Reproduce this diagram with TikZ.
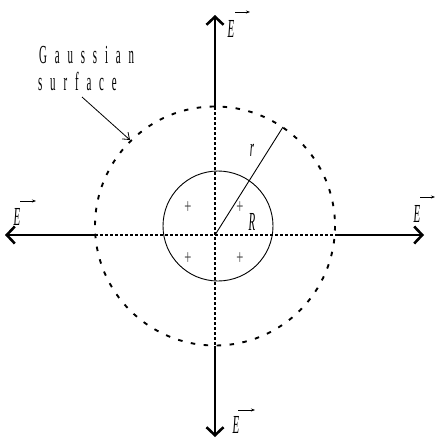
\documentclass[tikz,border=0pt]{standalone}
\usepackage{fontspec}
\setmainfont{Liberation Serif}
\usetikzlibrary{arrows.meta}
\begin{document}
\begin{tikzpicture}[x=1pt,y=-1pt,
  fieldarrow/.style={line width=2.8pt,-{Straight Barb[length=8pt,width=17pt,line width=2.6pt]}},
  crossline/.style={line width=1.7pt,dash pattern=on 3pt off 2pt},
  gauss/.style={line width=1.9pt,dash pattern=on 4.5pt off 8.5pt},
  lbl/.style={font=\itshape\fontsize{26pt}{26pt}\selectfont,inner sep=0pt,xscale=0.42},
  vecmark/.style={line width=0.7pt,-{Stealth[length=4pt,width=3pt]}},
  txt/.style={font=\fontsize{26pt}{26pt}\selectfont\addfontfeature{LetterSpace=72},inner sep=0pt,anchor=base west,xscale=0.42},
  plus/.style={font=\fontsize{21pt}{21pt}\selectfont,inner sep=0pt,text=black!75,xscale=0.6}]
\useasboundingbox (0,0) rectangle (435,439);
\coordinate (c) at (215,226);
\coordinate (o) at (215,235);
% circles
\draw[line width=0.9pt] (218,226) circle (55);
\draw[gauss] (c) ellipse (120 and 119.5);
% cross
\coordinate (top) at (215,107);
\coordinate (bot) at (215,346);
\coordinate (lft) at (95,235);
\coordinate (rgt) at (335,235);
\draw[crossline] (top) -- (bot);
\draw[crossline] (lft) -- (rgt);
% radius
\coordinate (rend) at (283,127);
\draw[line width=0.9pt] (o) -- (rend);
\node[lbl] (r) at (252,150) {r};
\node[lbl] (R) at (252,222) {R};
% plus signs
\node[plus] (p1) at (188,208) {+};
\node[plus] (p2) at (240,208) {+};
\node[plus] (p3) at (188,259) {+};
\node[plus] (p4) at (240,259) {+};
% field arrows
\coordinate (uptip) at (215,15);
\coordinate (dntip) at (215,437);
\coordinate (lftip) at (5,235);
\coordinate (rttip) at (424,235);
\draw[fieldarrow] (top) -- (uptip);
\draw[fieldarrow] (bot) -- (dntip);
\draw[fieldarrow] (lft) -- (lftip);
\draw[fieldarrow] (rgt) -- (rttip);
% E labels
\node[lbl] (E1) at (231,29) {E};
\coordinate (v1a) at (235,12); \coordinate (v1b) at (250,12);
\draw[vecmark] (v1a) -- (v1b);
\node[lbl] (E2) at (236,425) {E};
\coordinate (v2a) at (238,410); \coordinate (v2b) at (255,410);
\draw[vecmark] (v2a) -- (v2b);
\node[lbl] (E3) at (17,217) {E};
\coordinate (v3a) at (20,201); \coordinate (v3b) at (36,201);
\draw[vecmark] (v3a) -- (v3b);
\node[lbl] (E4) at (417,214) {E};
\coordinate (v4a) at (420,197); \coordinate (v4b) at (435,197);
\draw[vecmark] (v4a) -- (v4b);
% Gaussian surface label
\node[txt] (g1) at (39,63) {Gaussian};
\node[txt] (g2) at (38,90) {surface};
\coordinate (gs) at (82,97);
\coordinate (ge) at (130,140);
\draw[line width=0.8pt,-{Straight Barb[length=6pt,width=9pt]}] (gs) -- (ge);
\end{tikzpicture}
\end{document}
